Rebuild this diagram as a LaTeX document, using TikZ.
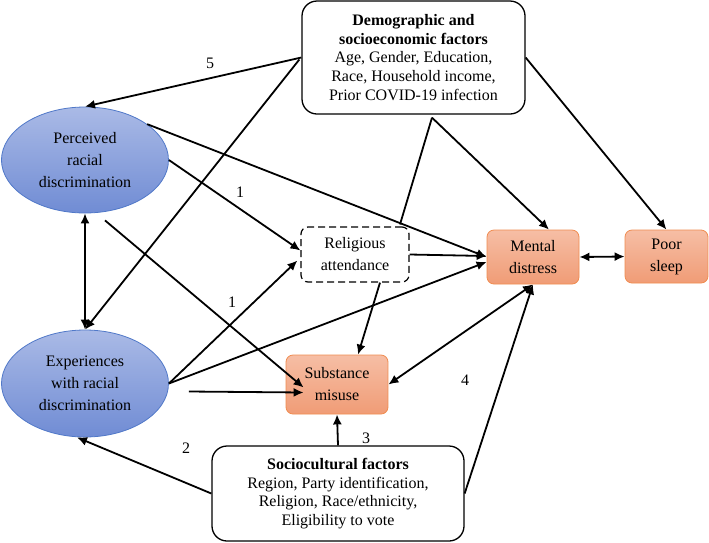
\documentclass[tikz,border=0pt]{standalone}
\usepackage{fontspec}
\setmainfont{Liberation Serif}
\usetikzlibrary{shapes.geometric,arrows.meta,calc}
\definecolor{ellTop}{RGB}{170,186,230}
\definecolor{ellBot}{RGB}{112,140,212}
\definecolor{ellLine}{RGB}{80,120,200}
\definecolor{orTop}{RGB}{246,190,165}
\definecolor{orBot}{RGB}{240,156,118}
\definecolor{orLine}{RGB}{240,140,80}
\begin{document}
\begin{tikzpicture}[x=1pt,y=-1pt,
  conn/.style={line width=1.8pt,-{Latex[length=10pt,width=9pt]}},
  both/.style={line width=1.8pt,{Latex[length=10pt,width=9pt]}-{Latex[length=10pt,width=9pt]}},
  plainline/.style={line width=1.8pt},
  factor/.style={draw,line width=1.3pt,rounded corners=15pt,align=center,
    font=\fontsize{16}{18.7}\selectfont,inner sep=0pt},
  latent/.style={ellipse,draw=ellLine,line width=0.8pt,top color=ellTop,bottom color=ellBot,
    align=center,font=\fontsize{16}{22}\selectfont,inner sep=0pt},
  outcome/.style={rectangle,rounded corners=7pt,draw=orLine,line width=0.8pt,top color=orTop,
    bottom color=orBot,align=center,font=\fontsize{16}{22}\selectfont,inner sep=0pt},
  medbox/.style={rectangle,rounded corners=7pt,draw,dash pattern=on 7pt off 4pt,line width=1.2pt,fill=white,
    align=center,font=\fontsize{16}{22}\selectfont,inner sep=0pt},
  lab/.style={font=\fontsize{16}{18}\selectfont,inner sep=0pt}
]
\fill[white] (0,0) rectangle (709,542);
\useasboundingbox (0,0) rectangle (709,542);

% nodes
\node[factor,minimum width=223pt,minimum height=113pt] (demo) at (413.5,57.5)
  {\textbf{Demographic and}\\ \textbf{socioeconomic factors}\\ Age, Gender, Education,\\ Race, Household income,\\ Prior COVID-19 infection};
\node[latent,minimum width=167pt,minimum height=106pt] (perc) at (85,160)
  {Perceived\\ racial\\ discrimination};
\node[latent,minimum width=167pt,minimum height=107pt] (exp) at (85,383.5)
  {Experiences\\ with racial\\ discrimination};
\node[medbox,minimum width=108pt,minimum height=55pt] (rel) at (355,254.5)
  {Religious\\ attendance};
\node[outcome,minimum width=92pt,minimum height=54pt] (ment) at (533,257)
  {Mental\\ distress};
\node[outcome,minimum width=83pt,minimum height=53pt] (sleep) at (666.5,256.5)
  {Poor\\ sleep};
\node[outcome,minimum width=102pt,minimum height=59pt] (subst) at (337,384.5)
  {Substance\\ misuse};
\node[factor,minimum width=252pt,minimum height=95pt] (socio) at (338,493.5)
  {\textbf{Sociocultural factors}\\ Region, Party identification,\\ Religion, Race/ethnicity,\\ Eligibility to vote};

% helper coordinates
\coordinate (apex) at ($(demo.south)+(18.5,3)$);
\coordinate (percLow) at ($(perc.south)+(20,7)$);
\coordinate (expRight) at ($(exp.east)+(20,8)$);

% connectors
\draw[conn] (demo.west) -- (perc.north);
\draw[conn] ($(demo.west)+(-2,2)$) -- (exp.north);
\draw[conn] (perc.30) -- (ment.west);
\draw[conn] (perc.east) -- ($(rel.west)+(0,-4)$);
\draw[conn] (percLow) -- ($(subst.west)+(18,3)$);
\draw[both] (perc.south) -- (exp.north);
\draw[conn] (exp.east) -- ($(rel.west)+(-3,6)$);
\draw[conn] (exp.east) -- ($(ment.west)+(0,5)$);
\draw[conn] (expRight) -- ($(subst.west)+(18,8)$);
\draw[conn] (rel.east) -- ($(ment.west)+(0,-1)$);
\draw[conn] ($(rel.south)+(25,0)$) -- ($(subst.north)+(21,0)$);
\draw[plainline] ($(rel.north)+(45,-2)$) -- (apex);
\draw[conn] (apex) -- ($(ment.north)+(16,0)$);
\draw[conn] (demo.east) -- (sleep.north);
\draw[both] (ment.east) -- (sleep.west);
\draw[both] (subst.east) -- (ment.south);
\draw[conn] (socio.east) -- (ment.south);
\draw[conn] (socio.north) -- (subst.south);
\draw[conn] (socio.west) -- ($(exp.south)+(-8,0)$);

% labels
\node[lab] (n5) at (210,63) {5};
\node[lab] (n1a) at (240,192) {1};
\node[lab] (n1b) at (232,302) {1};
\node[lab] (n2) at (186,448) {2};
\node[lab] (n3) at (366,438) {3};
\node[lab] (n4) at (465,380) {4};
\end{tikzpicture}
\end{document}
